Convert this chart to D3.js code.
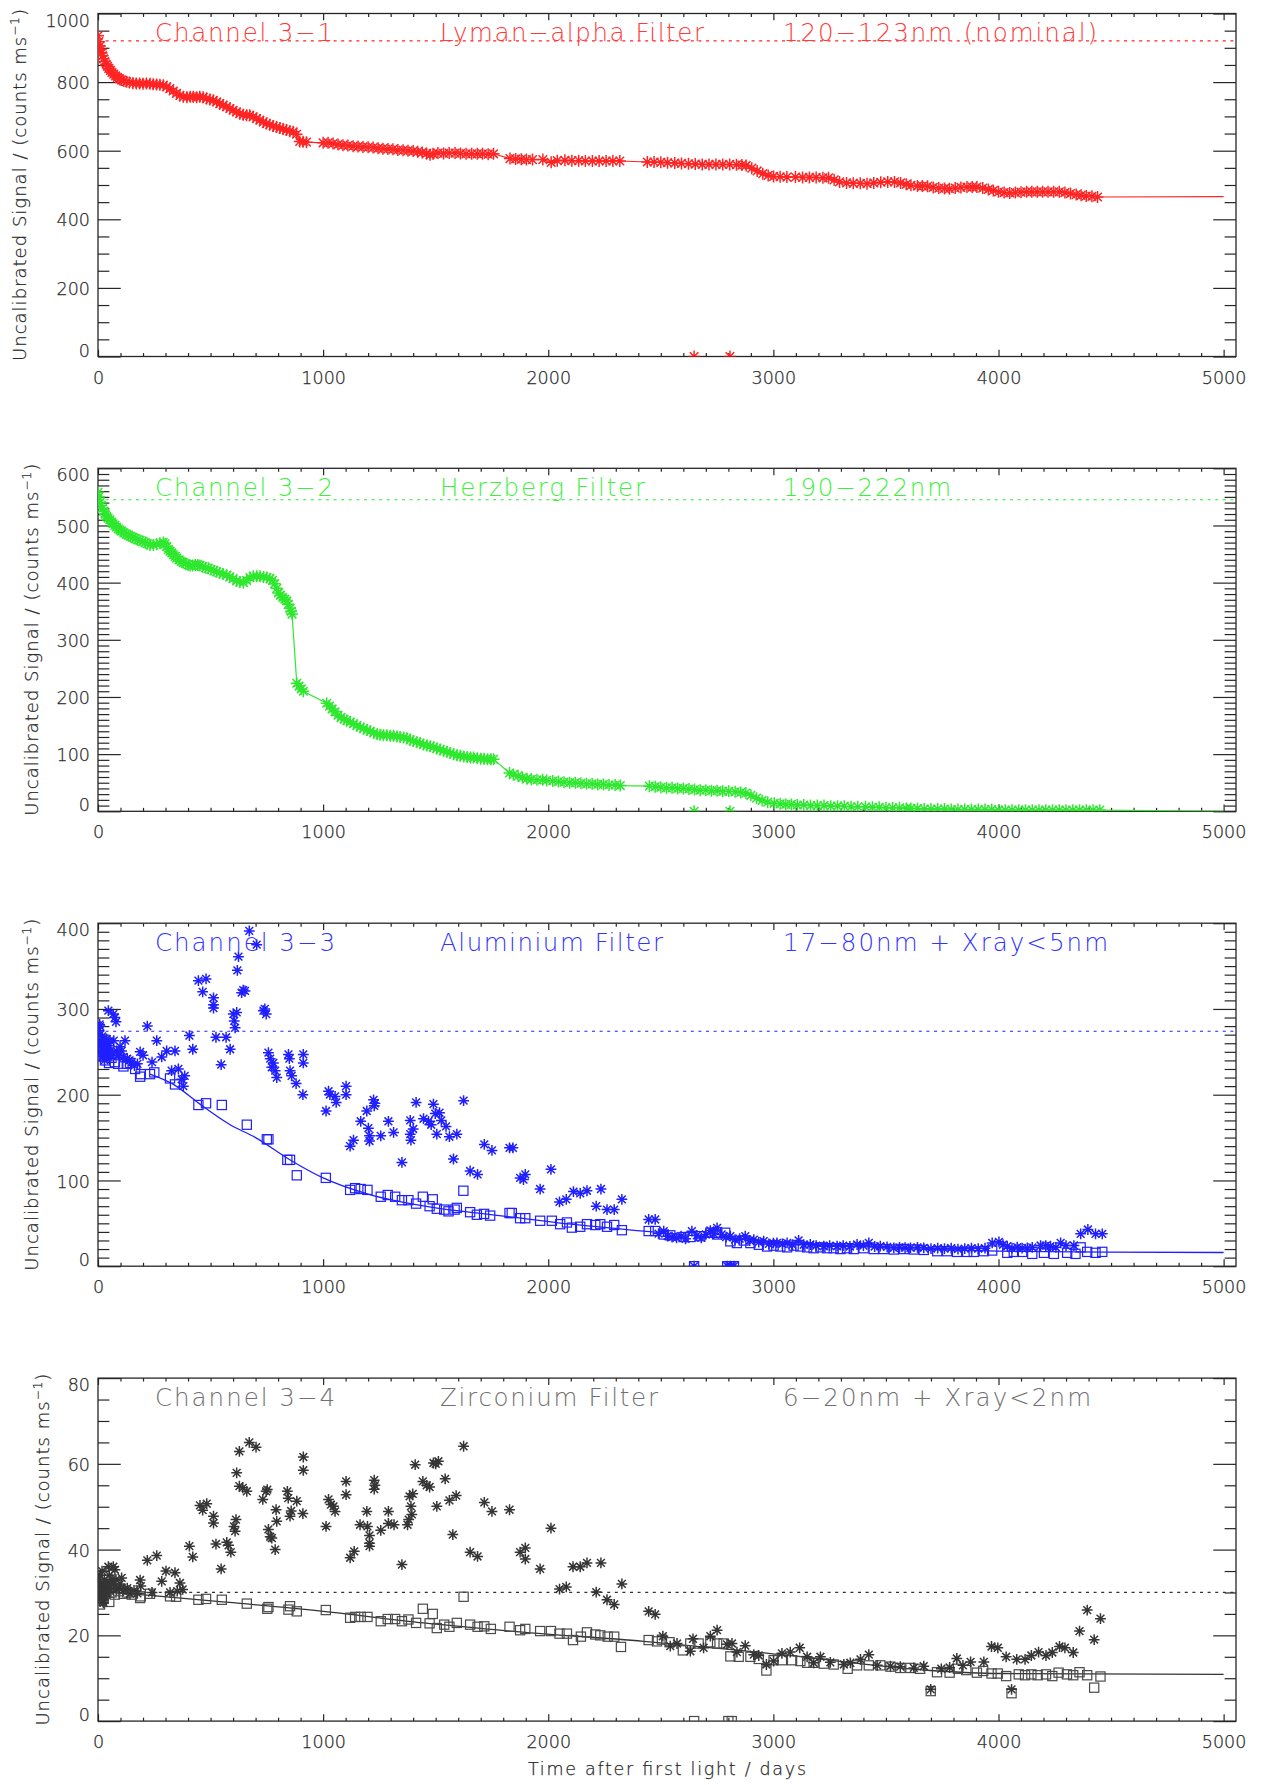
<!DOCTYPE html>
<html>
<head>
<meta charset="utf-8">
<script src="https://cdn.jsdelivr.net/npm/d3@7"></script>
<style>
  body { margin: 0; background: #fff; }
  svg text { font-family: "DejaVu Sans", sans-serif; font-weight: 200; }
</style>
</head>
<body>
<svg id="chart" width="1261" height="1785"></svg>
<script>
// ---- data: [day, signal] ----
const xMajorTicks = [0, 1000, 2000, 3000, 4000, 5000];

const ch1Signal = [[0,935],[4,918],[8,905],[12,895],[16,885],[20,877],[25,868],[30,860],[36,852],[42,846],[48,840],[55,834],[62,828],[70,823],[78,818],[86,814],[95,810],[105,806],[115,803],[127,801],[140,799],[155,797],[170,796],[185,796],[200,795],[215,796],[231,795],[245,794],[260,793],[275,792],[290,791],[305,786],[319,781],[334,774],[349,767],[364,761],[379,757],[395,756],[410,757],[423,757],[438,756],[452,757],[467,756],[482,752],[497,749],[512,747],[527,742],[541,737],[556,733],[571,728],[586,723],[600,718],[615,713],[630,708],[645,705],[660,703],[674,703],[689,699],[704,694],[719,689],[734,684],[748,679],[763,676],[778,672],[793,669],[808,666],[822,663],[837,660],[852,657],[867,655],[882,648],[896,627],[911,626],[926,625],
  [1000,623],[1022,623],[1044,621],[1066,618],[1088,616],[1110,615],[1133,613],[1155,612],[1177,611],[1200,610],[1222,609],[1244,607],[1266,606],[1288,605],[1310,604],[1332,602],[1355,601],[1377,600],[1400,599],[1420,597],[1440,595],[1460,592],[1475,588],[1488,591],[1510,593],[1535,592],[1560,593],[1586,593],[1610,592],[1635,591],[1660,591],[1685,591],[1708,591],[1733,590],[1757,591],
  [1830,577],[1855,576],[1880,575],[1903,574],[1930,574],[1976,574],[2013,566],[2040,571],[2074,572],[2105,571],[2135,571],[2165,570],[2196,570],[2226,570],[2257,570],[2287,570],[2318,570],
  [2440,567],[2470,567],[2500,566],[2530,565],[2562,564],[2592,563],[2623,562],[2653,561],[2684,560],[2714,560],[2745,560],[2775,560],[2806,560],[2836,559],[2860,558],[2879,557],[2904,549],[2928,541],[2953,533],[2977,528],[3001,525],[3030,524],[3060,523],[3098,523],[3130,522],[3160,522],[3190,522],[3220,521],[3245,521],[3270,515],[3294,509],[3325,506],[3355,505],[3386,505],[3416,504],[3446,506],[3477,508],[3508,509],[3538,509],[3565,506],[3590,502],[3611,499],[3640,497],[3662,497],[3685,496],[3710,493],[3735,491],[3760,490],[3782,489],[3808,491],[3833,493],[3860,494],[3883,494],[3904,494],[3930,491],[3955,487],[3977,484],[4000,480],[4025,478],[4050,477],[4075,478],[4100,479],[4125,480],[4148,480],[4172,480],[4196,480],[4220,480],[4245,480],[4270,480],[4295,478],[4320,475],[4345,472],[4367,470],[4390,468],[4415,467],[4440,465]];
const ch1Tail = [[4440,465],[5000,466]];
const ch1Zero = [[2648,0],[2807,0]];

const ch2Signal = [[0,558],[4,550],[9,540],[14,535],[20,530],[26,525],[31,520],[38,516],[45,513],[53,510],[60,506],[67,503],[75,500],[82,497],[90,494],[98,492],[105,490],[115,487],[125,485],[135,483],[145,481],[155,479],[165,477],[176,475],[187,474],[198,472],[210,470],[220,468],[231,466],[246,466],[261,467],[275,469],[290,470],[298,468],[305,463],[313,458],[320,455],[328,452],[335,449],[343,446],[350,443],[360,440],[370,437],[379,435],[390,433],[400,431],[409,430],[420,430],[432,431],[443,431],[453,430],[465,428],[478,426],[490,425],[502,423],[515,421],[527,419],[540,417],[555,415],[572,413],[585,410],[600,407],[616,403],[630,401],[646,400],[660,404],[675,409],[690,411],[705,411],[720,411],[735,410],[750,409],[764,407],[775,404],[785,398],[794,390],[801,382],[810,378],[820,374],[830,371],[838,368],[845,362],[853,355],[858,350],[862,345],
  [883,224],[893,219],[903,214],[912,210],
  [1016,189],[1028,184],[1040,179],[1053,174],[1066,168],[1080,164],[1093,161],[1105,159],[1120,156],[1135,153],[1150,150],[1165,147],[1180,145],[1195,142],[1209,140],[1225,137],[1240,135],[1253,134],[1268,133],[1283,133],[1298,132],[1313,132],[1328,131],[1342,130],[1358,129],[1372,128],[1387,125],[1400,123],[1416,121],[1430,119],[1446,117],[1461,115],[1476,114],[1490,112],[1505,110],[1520,108],[1535,106],[1550,104],[1564,102],[1580,100],[1595,98],[1609,97],[1625,96],[1640,95],[1655,94],[1668,94],[1685,93],[1700,92],[1715,92],[1730,91],[1745,91],[1757,91],
  [1828,67],[1845,64],[1866,62],[1885,59],[1905,57],[1925,56],[1950,55],[1975,55],[1993,54],[2020,53],[2045,52],[2070,51],[2095,50],[2120,50],[2145,49],[2170,48],[2195,48],[2220,47],[2245,47],[2270,46],[2297,46],[2320,45],
  [2449,44],[2475,43],[2500,42],[2525,41],[2550,41],[2575,40],[2600,40],[2625,39],[2650,38],[2675,37],[2700,37],[2725,36],[2750,36],[2775,35],[2802,35],[2830,34],[2855,33],[2878,32],[2900,28],[2925,23],[2950,19],[2975,16],[3004,14],[3030,13],[3055,12],[3080,12],[3106,11],[3135,11],[3165,10],[3195,10],[3225,10],[3255,9],[3285,9],[3315,9],[3345,8],[3375,8],[3409,8],[3440,7],[3470,7],[3500,6],[3530,6],[3560,6],[3590,5],[3611,5],[3640,5],[3670,4],[3700,4],[3730,4],[3760,4],[3790,3],[3820,3],[3850,3],[3880,3],[3910,3],[3940,3],[3970,3],[4000,2],[4030,2],[4060,2],[4090,2],[4120,2],[4150,2],[4180,2],[4210,2],[4240,2],[4270,2],[4300,2],[4330,2],[4360,2],[4390,2],[4420,2],[4450,2]];
const ch2Tail = [[4450,2],[5000,0]];
const ch2Zero = [[2648,0],[2807,0]];

const ch3Raw = [[3,258],[5,275],[7,282],[9,280],[9,270],[11,250],[13,262],[16,259],[18,268],[20,245],[22,255],[24,251],[27,262],[29,240],[31,247],[34,256],[38,265],[41,250],[46,298],[50,257],[53,263],[53,247],[57,252],[62,245],[68,294],[70,263],[75,290],[80,285],[83,251],[90,246],[98,256],[105,251],[113,244],[120,263],[130,242],[140,240],[150,238],[162,234],[175,236],[187,250],[200,246],[219,280],[240,238],[261,263],[283,244],[305,251],[327,228],[342,251],[357,230],[372,218],[379,210],[385,222],[406,269],[421,253],[446,333],[465,320],[480,335],[513,313],[513,305],[513,301],[524,267],[547,235],[569,267],[587,253],[601,294],[605,286],[609,278],[616,296],[619,345],[624,361],[638,319],[645,322],[653,321],[672,391],[705,375],[735,298],[741,300],[747,294],[757,249],[765,242],[772,232],[779,237],[787,228],[794,220],[846,247],[850,242],[853,228],[860,222],[880,213],[912,247],[912,237],[910,200],[1013,181],[1024,204],[1030,200],[1053,198],[1058,191],[1102,210],[1102,200],[1120,140],[1135,147],[1167,169],[1194,181],[1201,161],[1206,152],[1206,146],[1224,194],[1227,187],[1230,190],[1256,152],[1290,169],[1313,156],[1350,121],[1387,170],[1387,154],[1390,147],[1400,160],[1413,191],[1446,172],[1468,169],[1480,165],[1490,189],[1498,178],[1505,154],[1517,179],[1525,170],[1546,163],[1561,151],[1579,125],[1594,154],[1624,193],[1653,111],[1686,107],[1716,142],[1750,135],[1828,138],[1843,138],[1875,103],[1890,101],[1898,107],[1964,90],[2012,113],[2050,75],[2080,78],[2112,87],[2142,85],[2172,88],[2213,70],[2234,90],[2261,66],[2293,66],[2327,78],
  [2446,54.5],[2475,54.5],[2490,38],[2513,40.9],[2530,35],[2550,34],[2570,33],[2590,35],[2610,32],[2638,40.9],[2660,36],[2680,33],[2700,37],[2720,41.6],[2735,38],[2750,44.7],[2770,37],[2790,34],[2809,35],[2830,31],[2850,32],[2875,35],[2895,30],[2913,31],[2935,28],[2957,29.2],[2980,26],[3000,27],[3016,27.2],[3040,26],[3061,27.2],[3085,25],[3112,30],[3135,25],[3164,25.3],[3190,24],[3224,23.3],[3250,24],[3283,23.3],[3310,24],[3340,23],[3372,25.3],[3400,24],[3424,27.2],[3450,23],[3475,23.3],[3505,22.5],[3535,21.4],[3560,22],[3585,21.5],[3609,21.4],[3640,22],[3668,21.4],[3700,20.5],[3730,21],[3760,20.5],[3790,21],[3820,20],[3850,20.5],[3880,21],[3910,20.5],[3940,21],[3972,27.2],[4002,28.4],[4020,25],[4039,23.3],[4060,21],[4083,22.2],[4105,21],[4128,21.4],[4150,22],[4187,24.1],[4210,24],[4231,23.3],[4255,22],[4276,27.2],[4300,24],[4335,24.1],[4365,37.7],[4397,42.8],[4431,37.7],[4461,37.7]];
const ch3Corr = [[3,262],[6,250],[10,256],[15,245],[20,255],[25,248],[31,240],[38,246],[49,237],[60,243],[75,238],[90,236],[113,233],[128,236],[142,237],[165,230],[187,221],[190,224],[231,224],[250,226],[320,219],[342,212],[446,188],[480,190],[550,188],[661,165],[750,148],[757,148],[841,124],[853,124],[883,106],[1012,103],[1120,89],[1142,91],[1167,90],[1197,89],[1256,81],[1287,83],[1320,81],[1350,77],[1379,77],[1413,73],[1443,81],[1473,70],[1487,78],[1505,67],[1538,66],[1557,64],[1584,66],[1594,68],[1623,88],[1653,63],[1683,60],[1715,61],[1742,59],[1828,62],[1838,62],[1875,56],[1898,56],[1964,53],[2016,53],[2053,49],[2083,51],[2105,45],[2142,46],[2172,49],[2209,48],[2231,49],[2261,46],[2293,48],[2327,42],[2446,41],[2475,41],[2513,37],[2542,36],[2601,34],[2631,34],[2675,35],[2720,39],[2750,37],[2786,39],[2809,29],[2838,27],[2868,30],[2898,27],[2935,25],[2972,23],[3001,24],[3031,23],[3061,22],[3090,24],[3120,23],[3150,22],[3179,21],[3209,22],[3238,21],[3268,21],[3298,20],[3327,21],[3357,20],[3401,21],[3446,20],[3490,20],[3535,19.5],[3579,20],[3624,19.5],[3668,19],[3728,17.5],[3772,17.5],[3816,16.7],[3861,16.7],[3890,16.7],[3935,17.5],[3972,18.3],[4039,15.6],[4068,16.7],[4105,16.7],[4150,14.4],[4202,15.6],[4246,14.4],[4305,15.6],[4342,14.4],[4365,22],[4394,16.7],[4431,15.6],[4461,16.7]];
const ch3Fit = [[231,224],[335,212],[453,189],[587,165],[700,150],[850,124.5],[1000,103],[1200,84],[1500,68],[1700,61.5],[1831,57.6],[2100,49],[2424,41],[2868,31],[3313,24],[3698,19.5],[4000,17.5],[4483,16.5],[5000,16]];
const ch3Zero = [[2648,0],[2795,0],[2810,0],[2825,0]];

const ch4Raw = [[3,33],[5,30],[9,34],[9,31.5],[12,29],[14,32],[16,29],[18,35],[20,30.5],[22,28],[24,27.6],[26,31],[28,33],[31,29],[35,30],[38,32.2],[42,31],[46,36],[50,34],[53,30.3],[57,32],[62,33],[68,36],[72,32],[75,35.3],[80,33],[83,30.7],[90,31],[98,32],[105,33.4],[113,30.5],[120,30.7],[130,31],[142,29.7],[160,30.5],[175,29.8],[187,32.9],[190,31.5],[219,37.5],[240,30],[261,38.6],[283,32.6],[302,35],[320,30],[342,34.6],[352,30.3],[364,32.2],[376,30.7],[406,40.8],[421,38.3],[453,50.3],[465,49.2],[483,50.7],[513,47.8],[513,46.2],[524,41.3],[547,35.5],[572,41.7],[580,41],[590,39.4],[604,45.4],[609,44.3],[613,47],[616,57.9],[628,62.9],[628,54.8],[643,54.4],[661,53.6],[672,65],[702,63.9],[732,51.7],[747,53.6],[752,54],[757,44.7],[765,43],[772,42.7],[787,40],[791,49.3],[794,46.6],[841,53.6],[845,52],[853,47.8],[858,49],[883,51.3],[912,61.6],[912,58.5],[910,48.4],[1013,45.4],[1024,51.7],[1035,50.5],[1046,50.1],[1053,48.9],[1102,55.9],[1102,52.8],[1120,38.1],[1138,39.6],[1164,45.8],[1194,48.9],[1197,45.4],[1206,43.3],[1206,40.8],[1206,41.5],[1227,56.2],[1227,54.1],[1230,55],[1256,44.5],[1290,48.9],[1290,46.1],[1315,45.8],[1350,36.5],[1375,45.8],[1380,47],[1384,52.4],[1390,50.1],[1394,48.2],[1398,53],[1409,59.8],[1443,55.9],[1460,55],[1473,54.6],[1490,60.2],[1500,60],[1512,60.6],[1505,50.1],[1542,56.5],[1561,51.5],[1576,43.5],[1591,52.6],[1624,64.1],[1653,39.4],[1686,38.4],[1716,51],[1750,48.9],[1828,49.3],[1875,39.4],[1898,37.8],[1898,40.4],[1964,35.5],[2012,45],[2050,30.8],[2080,31.3],[2110,36],[2142,36],[2172,36.9],[2213,30.1],[2234,36.9],[2261,28.3],[2293,27.2],[2327,32],[2446,25.6],[2475,24.9],[2509,19.8],[2542,17.5],[2572,18.1],[2631,16.3],[2643,19.2],[2690,17.1],[2720,19.8],[2750,21.2],[2794,17.9],[2816,18.1],[2838,16.1],[2875,17.6],[2913,15.5],[2935,15.3],[2969,13.2],[3001,14],[3038,15.8],[3075,16.1],[3117,17.1],[3150,15],[3179,13.6],[3209,15],[3253,13.7],[3313,13.2],[3342,13.6],[3387,14.4],[3424,15.5],[3461,13],[3520,12.8],[3564,12.7],[3624,12.4],[3668,12.8],[3699,7.4],[3746,12.2],[3783,12.5],[3815,14.6],[3842,13],[3876,13.8],[3935,13.8],[3969,17.4],[3997,17.1],[4034,15],[4058,7.4],[4081,14.4],[4118,14.4],[4146,15.3],[4178,16.1],[4211,15.3],[4239,16],[4271,17.4],[4295,17.1],[4332,16],[4360,21],[4394,25.9],[4425,19],[4453,23.9]];
const ch4Corr = [[3,28],[6,30],[9,27.2],[12,31],[16,29.5],[20,30.5],[25,28.5],[31,29.7],[38,30.2],[50,27.8],[60,30],[75,29.5],[90,30.3],[113,29.7],[130,30],[150,29.5],[187,28.7],[190,29.1],[231,29.7],[320,29.1],[347,29],[446,28.3],[480,28.5],[550,28.3],[661,27.4],[752,26.2],[757,26.6],[846,26],[853,26.8],[883,25.6],[1012,25.9],[1120,24.1],[1142,24.3],[1167,24.3],[1197,24.3],[1256,23.3],[1287,23.8],[1320,23.8],[1350,23.3],[1379,23.7],[1413,22.9],[1443,26.2],[1473,22.8],[1487,25],[1505,21.7],[1538,22.5],[1561,22],[1594,22.9],[1624,29],[1653,22.5],[1686,22],[1716,22.1],[1745,21.5],[1828,22],[1875,21.2],[1898,21.5],[1964,21],[2012,21],[2050,20.4],[2083,20.4],[2110,18.9],[2145,19.7],[2172,20.7],[2209,20.2],[2231,20],[2264,19.7],[2293,19.7],[2323,17.3],[2446,18.9],[2483,18.6],[2505,19],[2539,18.4],[2598,16.5],[2631,18.1],[2668,18.1],[2720,18.4],[2750,18.1],[2779,18.1],[2809,15.1],[2846,15],[2898,15],[2935,14.5],[2969,11.8],[3001,14.2],[3038,14.2],[3083,14.2],[3120,14],[3150,13.6],[3179,13.6],[3224,13.4],[3268,13.2],[3330,12.2],[3372,13],[3424,13],[3475,13],[3520,12.7],[3564,12.4],[3609,12.4],[3652,12.2],[3699,7],[3727,11.4],[3783,11.3],[3820,12.2],[3857,11.9],[3904,11.3],[3932,11.7],[3969,11.1],[3997,11.1],[4034,10.5],[4058,6.5],[4090,10.9],[4118,10.7],[4146,10.9],[4174,10.7],[4211,10.9],[4239,10.5],[4267,11.3],[4304,10.9],[4332,10.7],[4360,11.4],[4394,10.7],[4425,7.8],[4453,10.4]];
const ch4Fit = [[9,30.2],[231,29.3],[557,27.8],[1001,25.6],[1446,22.9],[1831,21],[2424,18.6],[3016,15.6],[3698,11.8],[4000,11.1],[5000,10.9]];
const ch4Zero = [[2648,0],[2800,0],[2815,0]];

// nominal (first light) levels, drawn dotted
const nominalLevels = [920, 545, 274, 30];
const yMaxes = [1000, 600, 400, 80];
const yMajorSteps = [200, 100, 100, 20];
const yMinorSteps = [50, 10, 10, 5];
const channelNames = ["Channel 3\u22121", "Channel 3\u22122", "Channel 3\u22123", "Channel 3\u22124"];
const filterNames = ["Lyman\u2212alpha Filter", "Herzberg Filter", "Aluminium Filter", "Zirconium Filter"];
const passbands = ["120\u2212123nm (nominal)", "190\u2212222nm", "17\u221280nm + Xray<5nm", "6\u221220nm + Xray<2nm"];

// ---- layout ----
const svg = d3.select("#chart");
const left = 98, right = 1236, plotH = 343;
const W = right - left;
const tops = [13.5, 468.3, 923.2, 1378.1];
const xMax = 5055;

const panels = [
  { color: "#ff2424", mark: "#ff2424", title: "#ff3a3a", stars: ch1Signal, tail: ch1Tail, zeros: ch1Zero, joined: true,
    r: 6, widths: [178, 264, 314] },
  { color: "#2ee82e", mark: "#2ee82e", title: "#3ef03e", stars: ch2Signal, tail: ch2Tail, zeros: ch2Zero, joined: true,
    r: 6, widths: [178, 205, 168] },
  { color: "#1f1fff", mark: "#1f1fff", title: "#3333ff", stars: ch3Raw, squares: ch3Corr, fit: ch3Fit, zeros: ch3Zero,
    r: 5.4, widths: [180, 223, 325] },
  { color: "#333333", mark: "#353535", sq: "#4a4a4a", title: "#707070", stars: ch4Raw, squares: ch4Corr, fit: ch4Fit, zeros: ch4Zero,
    r: 5.4, widths: [180, 218, 308] }
];
const titleX = [155, 440, 783];

function starPath(r) {
  const a = r * 0.72;
  return `M${-r},0H${r}M0,${-r}V${r}M${-a},${-a}L${a},${a}M${-a},${a}L${a},${-a}`;
}

panels.forEach((p, i) => {
  const top = tops[i];
  const g = svg.append("g").attr("transform", `translate(${left},${top})`);

  const x = d3.scaleLinear().domain([0, xMax]).range([0, W]);
  const y = d3.scaleLinear().domain([0, yMaxes[i]]).range([plotH, 0]);

  g.append("clipPath").attr("id", "clip" + i)
    .append("rect").attr("width", W).attr("height", plotH);

  // ticks on all four sides, pointing inwards
  const yMajor = d3.range(0, yMaxes[i] + 0.1, yMajorSteps[i]);
  const yMinor = d3.range(0, yMaxes[i] + 0.1, yMinorSteps[i]).filter(v => v % yMajorSteps[i] !== 0);
  const xMinor = d3.range(0, 5001, 100).filter(v => v % 1000 !== 0);
  const yLen = 0.02 * W, xLen = 0.02 * plotH;

  const axes = [
    g.append("g").attr("transform", `translate(0,${plotH})`)
      .call(d3.axisBottom(x).tickValues(xMajorTicks).tickSize(-xLen).tickPadding(14.6).tickFormat(d3.format("d"))),
    g.append("g").attr("transform", `translate(0,${plotH})`)
      .call(d3.axisBottom(x).tickValues(xMinor).tickSize(-xLen / 2).tickFormat("")),
    g.append("g").call(d3.axisTop(x).tickValues(xMajorTicks).tickSize(-xLen).tickFormat("")),
    g.append("g").call(d3.axisTop(x).tickValues(xMinor).tickSize(-xLen / 2).tickFormat("")),
    g.append("g").attr("class", "yleft")
      .call(d3.axisLeft(y).tickValues(yMajor).tickSize(-yLen).tickPadding(8).tickFormat(d3.format("d"))),
    g.append("g").call(d3.axisLeft(y).tickValues(yMinor).tickSize(-yLen / 2).tickFormat("")),
    g.append("g").attr("transform", `translate(${W},0)`)
      .call(d3.axisRight(y).tickValues(yMajor).tickSize(-yLen).tickFormat("")),
    g.append("g").attr("transform", `translate(${W},0)`)
      .call(d3.axisRight(y).tickValues(yMinor).tickSize(-yLen / 2).tickFormat(""))
  ];
  axes.forEach(a => {
    a.select(".domain").remove();
    a.selectAll("line").attr("stroke", "#262626").attr("stroke-width", 1.2);
    a.selectAll("text").attr("font-size", 17.5).attr("fill", "#2a2a2a")
      .attr("stroke", "#2a2a2a").attr("stroke-width", 0.25);
  });
  // first and last y labels sit inside the frame
  axes[4].selectAll(".tick text")
    .attr("y", d => d === yMaxes[i] ? 7 : d === 0 ? -6 : 1);

  g.append("rect").attr("width", W).attr("height", plotH)
    .attr("fill", "none").attr("stroke", "#262626").attr("stroke-width", 1.3);

  // nominal level
  g.append("line").attr("x1", 0).attr("x2", W)
    .attr("y1", y(nominalLevels[i])).attr("y2", y(nominalLevels[i]))
    .attr("stroke", p.color).attr("stroke-width", 1.2).attr("stroke-dasharray", "3,4.6");

  // channel titles
  [channelNames[i], filterNames[i], passbands[i]].forEach((t, k) => {
    g.append("text").attr("x", titleX[k] - left).attr("y", 27.5)
      .attr("font-size", 24.5).attr("fill", p.title)
      .attr("textLength", p.widths[k]).attr("lengthAdjust", "spacing")
      .text(t);
  });

  const plot = g.append("g").attr("clip-path", `url(#clip${i})`);
  const line = d3.line().x(d => x(d[0])).y(d => y(d[1]));

  if (p.joined) {
    plot.append("path").datum(p.stars.concat(p.tail.slice(1))).attr("d", line)
      .attr("fill", "none").attr("stroke", p.color).attr("stroke-width", 1.2);
  }
  if (p.fit) {
    plot.append("path").datum(p.fit).attr("d", line.curve(d3.curveMonotoneX))
      .attr("fill", "none").attr("stroke", p.color).attr("stroke-width", 1.3);
  }
  if (p.squares) {
    plot.selectAll(null).data(p.squares.concat(p.zeros)).join("rect")
      .attr("x", d => x(d[0]) - 4.6).attr("y", d => y(d[1]) - 4.6)
      .attr("width", 9.2).attr("height", 9.2)
      .attr("fill", "none").attr("stroke", p.sq || p.mark).attr("stroke-width", 1.2);
  }
  const sPts = p.squares ? p.stars.concat(i === 2 ? p.zeros : []) : p.stars.concat(p.zeros);
  plot.selectAll(null).data(sPts).join("path")
    .attr("d", starPath(p.r))
    .attr("transform", d => `translate(${x(d[0])},${y(d[1])})`)
    .attr("fill", "none").attr("stroke", p.mark).attr("stroke-width", 1.5);

  // y title, placed left of the widest tick label
  let maxW = 0;
  axes[4].selectAll(".tick text").each(function () { maxW = Math.max(maxW, this.getComputedTextLength()); });
  const bx = -8 - maxW - 19;
  const yt = g.append("text")
    .attr("transform", `translate(${bx},${plotH / 2}) rotate(-90)`)
    .attr("text-anchor", "middle").attr("font-size", 18).attr("fill", "#2a2a2a")
    .attr("stroke", "#2a2a2a").attr("stroke-width", 0.25)
    .attr("textLength", 352).attr("lengthAdjust", "spacing");
  yt.append("tspan").text("Uncalibrated Signal / (counts ms");
  yt.append("tspan").attr("dy", -7).attr("font-size", 12).text("\u22121");
  yt.append("tspan").attr("dy", 7).text(")");
});

svg.append("text").attr("x", (left + right) / 2).attr("y", 1775)
  .attr("text-anchor", "middle").attr("font-size", 17.5).attr("fill", "#2a2a2a")
  .attr("stroke", "#2a2a2a").attr("stroke-width", 0.25)
  .attr("textLength", 278).attr("lengthAdjust", "spacing")
  .text("Time after first light / days");
</script>
</body>
</html>
